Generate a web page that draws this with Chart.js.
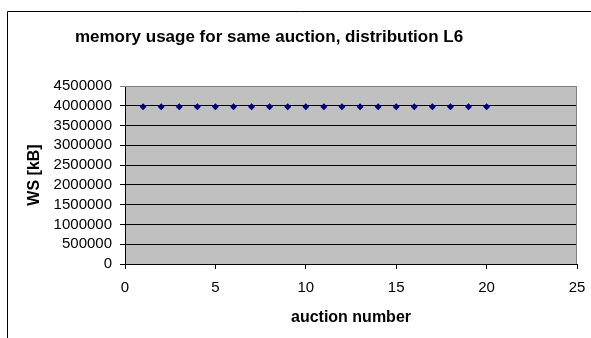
<!DOCTYPE html>
<html>
<head>
<meta charset="utf-8">
<script src="https://cdn.jsdelivr.net/npm/chart.js@4"></script>
<style>
    html, body { margin: 0; padding: 0; background: #fff; }
    #wrap { width: 591px; height: 338px; }
</style>
</head>
<body>
<div id="wrap"><canvas id="memChart" width="591" height="338"></canvas></div>
<script>
    // values
    const auctionNumbers = [1, 2, 3, 4, 5, 6, 7, 8, 9, 10, 11, 12, 13, 14, 15, 16, 17, 18, 19, 20];
    const wsValues = [3975000, 3975000, 3975000, 3975000, 3975000, 3975000, 3975000, 3975000, 3975000, 3975000,
                      3975000, 3975000, 3975000, 3975000, 3975000, 3975000, 3975000, 3975000, 3975000, 3975000];
    const chartTitle = 'memory usage for same auction, distribution L6';
    const xTitle = 'auction number';
    const yTitle = 'WS [kB]';

    const points = auctionNumbers.map((n, i) => ({ x: n, y: wsValues[i] }));

    // white page, the outer frame, the grey plot area and the title
    const frame = {
        id: 'frame',
        beforeDraw(chart) {
            const c = chart.ctx;
            const a = chart.chartArea;
            c.save();
            c.fillStyle = '#fff';
            c.fillRect(0, 0, chart.width, chart.height);
            c.fillStyle = '#c0c0c0';
            c.fillRect(a.left, a.top, a.right - a.left, a.bottom - a.top);
            c.strokeStyle = '#000';
            c.lineWidth = 1;
            c.beginPath();
            c.moveTo(7.5, chart.height);
            c.lineTo(7.5, 11.5);
            c.lineTo(chart.width, 11.5);
            c.stroke();
            c.fillStyle = '#000';
            c.font = 'bold 17px "Liberation Sans", Arial, sans-serif';
            c.textAlign = 'center';
            c.textBaseline = 'middle';
            c.fillText(chartTitle, 269, 37);
            c.restore();
        },
        beforeDatasetsDraw(chart) {
            const a = chart.chartArea;
            const c = chart.ctx;
            c.save();
            c.strokeStyle = '#808080';
            c.lineWidth = 1;
            c.beginPath();
            c.moveTo(a.left, a.top + 0.5);
            c.lineTo(a.right - 0.5, a.top + 0.5);
            c.lineTo(a.right - 0.5, a.bottom);
            c.stroke();
            c.restore();
        }
    };

    Chart.defaults.font.family = '"Liberation Sans", Arial, sans-serif';
    Chart.defaults.color = '#000';

    new Chart(document.getElementById('memChart').getContext('2d'), {
        type: 'scatter',
        data: {
            datasets: [{
                label: yTitle,
                data: points,
                pointStyle: 'rectRot',
                pointRadius: 3.5,
                pointHoverRadius: 3.5,
                backgroundColor: '#000080',
                borderColor: '#000080',
                borderWidth: 0,
                showLine: false
            }]
        },
        options: {
            responsive: false,
            animation: false,
            layout: {
                padding: { top: 86, right: 14, left: 20, bottom: 0 }
            },
            plugins: {
                legend: { display: false },
                tooltip: { enabled: false }
            },
            scales: {
                x: {
                    type: 'linear',
                    min: 0,
                    max: 25,
                    afterFit(scale) {
                        scale.height = 74;
                        scale.paddingLeft = 0;
                        scale.paddingRight = 0;
                    },
                    ticks: { stepSize: 5, padding: 10, autoSkip: false, maxRotation: 0, font: { size: 15 } },
                    grid: { drawOnChartArea: false, tickLength: 5, color: '#000' },
                    border: { color: '#000' },
                    title: {
                        display: true,
                        text: xTitle,
                        font: { size: 16, weight: 'bold' },
                        padding: { top: 0, bottom: 11 }
                    }
                },
                y: {
                    min: 0,
                    max: 4500000,
                    afterFit(scale) { scale.width = 105; },
                    ticks: {
                        stepSize: 500000,
                        padding: 8,
                        autoSkip: false,
                        font: { size: 15 },
                        callback: v => String(v)
                    },
                    grid: {
                        tickLength: 5,
                        color: ctx => ctx.tick && ctx.tick.value === 4500000 ? '#808080' : '#000'
                    },
                    border: { color: '#000' },
                    title: {
                        display: true,
                        text: yTitle,
                        font: { size: 16, weight: 'bold' },
                        padding: { top: 5, bottom: 0 }
                    }
                }
            }
        },
        plugins: [frame]
    });
</script>
</body>
</html>
